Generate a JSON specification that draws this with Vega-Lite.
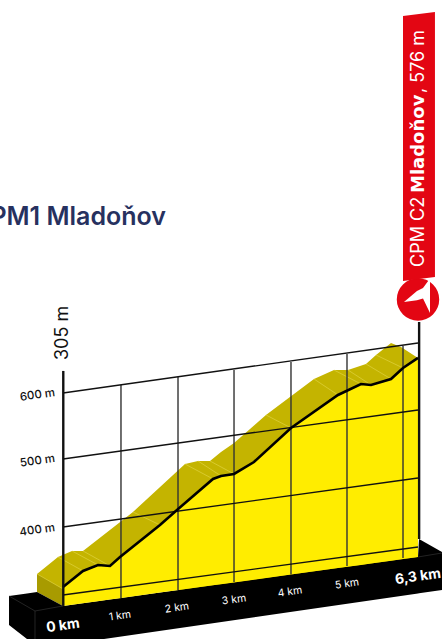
{
"$schema":"https://vega.github.io/schema/vega-lite/v6.json",
"width":442,"height":639,"padding":0,"autosize":{"type":"none"},
"background":"white","view":{"stroke":null},
"config":{"font":"Inter","style":{"cell":{"stroke":null}}},
"encoding":{
 "x":{"field":"km","type":"quantitative","scale":{"domain":[-1.118,6.726],"nice":false,"zero":false},"axis":null},
 "y":{"field":"m","type":"quantitative","scale":{"domain":[232.8,1186.57],"nice":false,"zero":false},"axis":null}
},
"datasets":{
 "shadow":[{"km":-0.461,"m":329.9},{"km":-0.089,"m":355.2},{"km":0.16,"m":364.2},{"km":0.355,"m":364.2},{"km":1.242,"m":422.4},{"km":2.165,"m":494.0},{"km":2.396,"m":498.5},{"km":2.609,"m":498.5},{"km":2.804,"m":512.0},{"km":3.035,"m":525.4},{"km":3.602,"m":567.2},{"km":4.454,"m":620.9},{"km":4.809,"m":634.3},{"km":5.057,"m":634.3},{"km":5.377,"m":643.3},{"km":5.555,"m":656.7},{"km":5.821,"m":674.6},{"km":5.998,"m":668.7},{"km":6.3,"m":652.3}],
 "face":[{"km":-0.461,"m":329.9,"m2":303.0},{"km":0,"m":307.5,"m2":282.1}],
 "block":[{"km":-0.958,"m":297.0,"m2":253.8},{"km":-0.639,"m":300.9,"m2":232.8},{"km":-0.461,"m":303.0,"m2":232.8},{"km":0,"m":282.1,"m2":232.8},{"km":0.728,"m":290.6,"m2":232.8},{"km":6.3,"m":355.2,"m2":300.8},{"km":6.318,"m":382.1,"m2":301.1},{"km":6.726,"m":362.7,"m2":306.0}],
 "profile":[{"km":0,"m":310.5,"m2":282.1},{"km":0.355,"m":334.4,"m2":286.2},{"km":0.621,"m":343.3,"m2":289.3},{"km":0.834,"m":341.8,"m2":291.8},{"km":1.012,"m":355.2,"m2":293.8},{"km":1.721,"m":403.0,"m2":302.1},{"km":2.023,"m":425.4,"m2":305.6},{"km":2.662,"m":471.7,"m2":313.0},{"km":2.804,"m":476.2,"m2":314.6},{"km":3.035,"m":479.1,"m2":317.3},{"km":3.389,"m":497.0,"m2":321.4},{"km":4.046,"m":547.8,"m2":329.0},{"km":4.88,"m":597.0,"m2":338.7},{"km":5.288,"m":613.4,"m2":343.4},{"km":5.466,"m":612.0,"m2":345.5},{"km":5.821,"m":620.9,"m2":349.6},{"km":6.034,"m":637.3,"m2":352.1},{"km":6.3,"m":652.3,"m2":355.2}],
 "grid":[{"g":"600","km":0,"m":600},{"g":"600","km":6.3,"m":674.6},{"g":"500","km":0,"m":501.5},{"g":"500","km":6.3,"m":574.7},{"g":"400","km":0,"m":400},{"g":"400","km":6.3,"m":473.1},{"g":"300","km":0,"m":298.5},{"g":"300","km":6.3,"m":370.2}],
 "verticals":[{"km":1.029,"m":612.0,"m2":294.0},{"km":2.041,"m":623.9,"m2":306.0},{"km":3.035,"m":634.3,"m2":317.9},{"km":4.046,"m":646.3,"m2":329.0},{"km":5.04,"m":658.2,"m2":341.8},{"km":6.034,"m":670.2,"m2":353.7}],
 "poles":[{"km":0.005,"m":632.9,"m2":282.1},{"km":6.32,"m":706.0,"m2":382.1}],
 "edges":[{"e":"a","km":-0.958,"m":297.0},{"e":"a","km":-0.497,"m":274.6},{"e":"a","km":0,"m":282.1},{"e":"b","km":-0.497,"m":274.6},{"e":"b","km":-0.497,"m":232.8},{"e":"c","km":6.3,"m":355.2},{"e":"c","km":6.726,"m":361.2}],
 "creases":[{"e":"a","km":-0.089,"m":355.2},{"e":"a","km":0.355,"m":334.4},{"e":"b","km":0.16,"m":364.2},{"e":"b","km":0.621,"m":343.3},{"e":"c","km":0.355,"m":364.2},{"e":"c","km":0.834,"m":341.8},{"e":"d","km":1.242,"m":422.4},{"e":"d","km":1.721,"m":403.0},{"e":"e","km":2.165,"m":494.0},{"e":"e","km":2.662,"m":471.7},{"e":"f","km":2.396,"m":498.5},{"e":"f","km":2.804,"m":476.2},{"e":"g","km":2.609,"m":498.5},{"e":"g","km":3.035,"m":479.1},{"e":"h","km":3.602,"m":567.2},{"e":"h","km":4.046,"m":547.8},{"e":"i","km":4.454,"m":620.9},{"e":"i","km":4.88,"m":597.0},{"e":"j","km":4.809,"m":634.3},{"e":"j","km":5.288,"m":613.4},{"e":"k","km":5.057,"m":634.3},{"e":"k","km":5.466,"m":612.0},{"e":"l","km":5.377,"m":643.3},{"e":"l","km":5.821,"m":620.9},{"e":"m","km":5.555,"m":656.7},{"e":"m","km":6.034,"m":637.3},{"e":"n","km":-0.461,"m":329.9},{"e":"n","km":0,"m":307.5}],
 "flag":[{"km":6.034,"m":1162.7,"m2":767.2},{"km":6.601,"m":1168.7,"m2":773.2}],
 "circle":[{"km":6.3,"m":739.6}],
 "arrow":[{"km":6.051,"m":735.8,"m2":735.8},{"km":6.282,"m":752.2,"m2":738.5},{"km":6.389,"m":756.7,"m2":741.1},{"km":6.513,"m":770.9,"m2":719.4}],
 "kmLabels":[{"km":1.012,"m":267.2,"label":"1 km"},{"km":2.023,"m":279.1,"label":"2 km"},{"km":3.035,"m":291.1,"label":"3 km"},{"km":4.028,"m":303.0,"label":"4 km"},{"km":5.04,"m":314.9,"label":"5 km"}],
 "endLabels":[{"km":0,"m":252.3,"label":"0 km"},{"km":6.3,"m":325.4,"label":"6,3 km"}],
 "altLabels":[{"km":-0.142,"m":600,"label":"600 m"},{"km":-0.142,"m":501.5,"label":"500 m"},{"km":-0.142,"m":398.5,"label":"400 m"}],
 "gain":[{"km":0.0,"m":689.6,"label":"305 m"}],
 "flagLight":[{"km":6.318,"m":788.1,"label":"CPM C2"},{"km":6.318,"m":1047.8,"label":", 576 m"}],
 "flagBold":[{"km":6.318,"m":898.5,"label":"Mladoňov"}],
 "title":[{"km":1.828,"m":862.7,"label":"CPM1 Mladoňov"}]
},
"layer":[
 {"data":{"name":"shadow"},"mark":{"type":"area","color":"#c4b400"},"encoding":{"y2":{"datum":306}}},
 {"data":{"name":"face"},"mark":{"type":"area","color":"#a89b00"},"encoding":{"y2":{"field":"m2"}}},
 {"data":{"name":"block"},"mark":{"type":"area","color":"#000000"},"encoding":{"y2":{"field":"m2"}}},
 {"data":{"name":"edges"},"mark":{"type":"line","color":"#3a3a3a","strokeWidth":0.6},"encoding":{"detail":{"field":"e"},"order":{"field":"km"}}},
 {"data":{"name":"profile"},"mark":{"type":"area","color":"#ffed00"},"encoding":{"y2":{"field":"m2"}}},
 {"data":{"name":"creases"},"mark":{"type":"line","color":"#e4d84c","strokeWidth":0.6},"encoding":{"detail":{"field":"e"}}},
 {"data":{"name":"verticals"},"mark":{"type":"rule","color":"#333333","strokeWidth":1.4},"encoding":{"y2":{"field":"m2"}}},
 {"data":{"name":"grid"},"mark":{"type":"line","color":"#111111","strokeWidth":1.4},"encoding":{"detail":{"field":"g"}}},
 {"data":{"name":"profile"},"mark":{"type":"line","color":"#000000","strokeWidth":2.6}},
 {"data":{"name":"poles"},"mark":{"type":"rule","color":"#111111","strokeWidth":2.4},"encoding":{"y2":{"field":"m2"}}},
 {"data":{"name":"circle"},"mark":{"type":"point","shape":"circle","filled":true,"opacity":1,"color":"#e30613","size":1800}},
 {"data":{"name":"flag"},"mark":{"type":"area","color":"#e30613"},"encoding":{"y2":{"field":"m2"}}},
 {"data":{"name":"arrow"},"mark":{"type":"area","color":"#ffffff"},"encoding":{"y2":{"field":"m2"}}},
 {"data":{"name":"flagLight"},"mark":{"type":"text","angle":270,"align":"left","baseline":"middle","color":"#ffffff","fontSize":18,"font":"Inter"},"encoding":{"text":{"field":"label"}}},
 {"data":{"name":"flagBold"},"mark":{"type":"text","angle":270,"align":"left","baseline":"middle","color":"#ffffff","fontSize":18,"fontWeight":700,"font":"DejaVu Sans"},"encoding":{"text":{"field":"label"}}},
 {"data":{"name":"gain"},"mark":{"type":"text","angle":270,"align":"center","baseline":"middle","color":"#111111","fontSize":18,"font":"Inter"},"encoding":{"text":{"field":"label"}}},
 {"data":{"name":"altLabels"},"mark":{"type":"text","angle":352,"align":"right","baseline":"middle","color":"#111111","fontSize":11.5,"fontWeight":500,"font":"Inter"},"encoding":{"text":{"field":"label"}}},
 {"data":{"name":"kmLabels"},"mark":{"type":"text","angle":352,"align":"center","baseline":"middle","color":"#ffffff","fontSize":10.5,"font":"Inter"},"encoding":{"text":{"field":"label"}}},
 {"data":{"name":"endLabels"},"mark":{"type":"text","angle":352,"align":"center","baseline":"middle","color":"#ffffff","fontSize":14,"fontWeight":700,"font":"Inter"},"encoding":{"text":{"field":"label"}}},
 {"data":{"name":"title"},"mark":{"type":"text","align":"right","baseline":"middle","color":"#27315f","fontSize":25,"fontWeight":600,"font":"Inter"},"encoding":{"text":{"field":"label"}}}
]
}
